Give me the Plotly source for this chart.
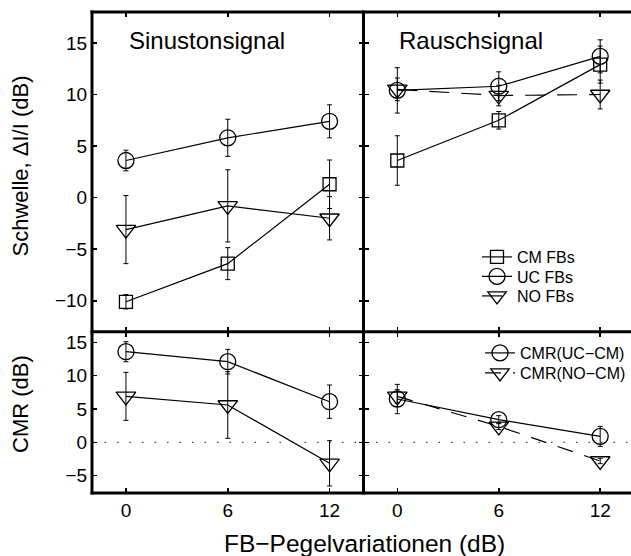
import plotly.graph_objects as go

# ---------------- data ----------------
x_levels = [0, 6, 12]
x_ticklabels = ["0", "6", "12"]

# Sinustonsignal (threshold, dB)
sin_cm = [-10.1, -6.4, 1.3]
sin_cm_err = [0.7, 1.55, 2.35]
sin_uc = [3.6, 5.8, 7.4]
sin_uc_err = [1.0, 1.8, 1.6]
sin_no = [-3.1, -0.8, -2.0]
sin_no_err = [3.3, 3.5, 2.1]

# Rauschsignal (threshold, dB)
rau_cm = [3.6, 7.5, 12.9]
rau_cm_err = [2.4, 0.85, 1.8]
rau_uc = [10.4, 10.8, 13.7]
rau_uc_err = [2.2, 1.4, 1.6]
rau_no = [10.5, 9.9, 10.0]
rau_no_err = [1.1, 1.0, 1.4]

# CMR, Sinustonsignal
cmr_sin_uc = [13.6, 12.1, 6.1]
cmr_sin_uc_err = [1.5, 1.85, 2.5]
cmr_sin_no = [6.9, 5.6, -3.15]
cmr_sin_no_err = [3.6, 5.0, 3.4]

# CMR, Rauschsignal
cmr_rau_uc = [6.5, 3.4, 0.9]
cmr_rau_uc_err = [2.2, 0.6, 1.5]
cmr_rau_no = [6.9, 2.4, -2.8]
cmr_rau_no_err = [1.0, 0.5, 0.4]

top_ticks = [-10, -5, 0, 5, 10, 15]
bot_ticks = [-5, 0, 5, 10, 15]

legend_names = ["CM FBs", "UC FBs", "NO FBs"]
cmr_names = ["CMR(UC\u2212CM)", "CMR(NO\u2212CM)"]

# ---------------- style ----------------
FONT = "Liberation Sans, Arial, Helvetica, sans-serif"
BLACK = "black"
LW = 1.2
MLW = 1.3

def trace(xa, ya, y, err, symbol, size, dash="solid", name=None, legend=None):
    return go.Scatter(
        x=x_levels, y=y, xaxis=xa, yaxis=ya,
        mode="lines+markers",
        line=dict(color=BLACK, width=LW, dash=dash),
        marker=dict(symbol=symbol, size=size, color=BLACK, line=dict(color=BLACK, width=MLW)),
        error_y=dict(type="data", array=err, visible=True, color=BLACK, thickness=1, width=2.5),
        name=name if name else "",
        showlegend=name is not None,
        legend=legend if legend else "legend",
        hoverinfo="skip",
    )

fig = go.Figure()

SQ, CI, TR = "square-open", "circle-open", "triangle-down-open"
SQS, CIS, TRS = 13, 16, 17

# top-left
fig.add_trace(trace("x", "y", sin_cm, sin_cm_err, SQ, SQS))
fig.add_trace(trace("x", "y", sin_uc, sin_uc_err, CI, CIS))
fig.add_trace(trace("x", "y", sin_no, sin_no_err, TR, TRS))
# top-right
fig.add_trace(trace("x2", "y2", rau_cm, rau_cm_err, SQ, SQS, name=legend_names[0], legend="legend"))
fig.add_trace(trace("x2", "y2", rau_uc, rau_uc_err, CI, CIS, name=legend_names[1], legend="legend2"))
fig.add_trace(trace("x2", "y2", rau_no, rau_no_err, TR, TRS, dash="20px,12px", name=legend_names[2], legend="legend3"))
# bottom-left
fig.add_trace(trace("x3", "y3", cmr_sin_uc, cmr_sin_uc_err, CI, CIS))
fig.add_trace(trace("x3", "y3", cmr_sin_no, cmr_sin_no_err, TR, TRS))
# bottom-right
fig.add_trace(trace("x4", "y4", cmr_rau_uc, cmr_rau_uc_err, CI, CIS, name=cmr_names[0], legend="legend4"))
fig.add_trace(trace("x4", "y4", cmr_rau_no, cmr_rau_no_err, TR, TRS, dash="16px,12px", name=cmr_names[1], legend="legend5"))

# the original figure's box extends a few pixels past the 631 px window on the right
W, HT = 634, 556
ML, MR, MT, MB = 92, 0, 12, 63
PW, PH = W - ML - MR, HT - MT - MB
D = (363.5 - ML) / PW
H = (HT - MB - 331.7) / PH
TICKFONT = dict(family=FONT, size=19, color=BLACK)

def px_x(px):
    return (px - ML) / PW

def px_y(py):
    return (HT - MB - py) / PH

def xax(domain, anchor, rng, labels):
    return dict(domain=domain, anchor=anchor, range=rng, tickvals=x_levels, ticktext=x_ticklabels,
                showticklabels=labels, ticks="inside", ticklen=5, tickwidth=1.5, tickcolor=BLACK,
                showline=True, linewidth=1, linecolor="rgba(0,0,0,0)", mirror="ticks",
                showgrid=False, zeroline=False, tickfont=TICKFONT, fixedrange=True)

def yax(domain, anchor, rng, tickv, labels, mirror):
    return dict(domain=domain, anchor=anchor, range=rng, tickvals=tickv,
                ticktext=[("\u2212" + str(-v)) if v < 0 else str(v) for v in tickv],
                showticklabels=labels, ticks="inside", ticklen=5, tickwidth=1.5, tickcolor=BLACK,
                showline=bool(mirror), linewidth=1, linecolor="rgba(0,0,0,0)", mirror=mirror,
                showgrid=False, zeroline=False, tickfont=TICKFONT, fixedrange=True)

RX = [-2, 14]
LEGFONT = dict(family=FONT, size=16, color=BLACK)

def leg(xpx, ypx):
    return dict(x=px_x(xpx), y=px_y(ypx), xanchor="left", yanchor="middle",
                bgcolor="rgba(0,0,0,0)", font=LEGFONT, borderwidth=0)

fig.update_layout(
    width=W, height=HT,
    margin=dict(l=ML, r=MR, t=MT, b=MB),
    paper_bgcolor="white", plot_bgcolor="white",
    font=dict(family=FONT, color=BLACK),
    xaxis=xax([0, D], "y", RX, False),
    yaxis=yax([H, 1], "x", [-13, 18], top_ticks, True, "ticks"),
    xaxis2=xax([D, 1], "y2", RX, False),
    yaxis2=yax([H, 1], "x2", [-13, 18], top_ticks, False, False),
    xaxis3=xax([0, D], "y3", RX, True),
    yaxis3=yax([0, H], "x3", [-7.6, 16.6], bot_ticks, True, "ticks"),
    xaxis4=xax([D, 1], "y4", RX, True),
    yaxis4=yax([0, H], "x4", [-7.6, 16.6], bot_ticks, False, False),
    legend=leg(477, 257),
    legend2=leg(477, 276.5),
    legend3=leg(477, 296),
    legend4=leg(480, 353),
    legend5=leg(480, 373),
    showlegend=True,
    hovermode=False,
)

# dotted zero lines in the CMR panels
for xr, yr in [("x3", "y3"), ("x4", "y4")]:
    fig.add_shape(type="line", xref=xr, yref=yr, x0=RX[0], x1=RX[1], y0=0, y1=0,
                  line=dict(color="#444", width=1.2, dash="1.5px,11px"), layer="below")

# frame lines (Matlab-like thick box; its right side lies outside the window)
ex = 1.5 / PW
ey = 1.5 / PH
frame = [
    (0 - ex, 1, 1, 1), (0 - ex, 0, 1, 0), (0 - ex, H, 1, H),
    (0, 0 - ey, 0, 1 + ey), (D, 0 - ey, D, 1 + ey),
]
for x0, y0, x1, y1 in frame:
    fig.add_shape(type="line", xref="paper", yref="paper", x0=x0, y0=y0, x1=x1, y1=y1,
                  line=dict(color=BLACK, width=3), layer="above")

# texts
ann = [
    dict(text="Sinustonsignal", x=px_x(127), y=px_y(40), xanchor="left", size=24),
    dict(text="Rauschsignal", x=px_x(397), y=px_y(40), xanchor="left", size=24),
    dict(text="FB\u2212Pegelvariationen (dB)", x=px_x(364), y=px_y(543), xanchor="center", size=24.5),
    dict(text="Schwelle, \u0394I/I (dB)", x=px_x(20), y=px_y(166.5), xanchor="center", size=22, angle=-90),
    dict(text="CMR (dB)", x=px_x(20), y=px_y(404), xanchor="center", size=22, angle=-90),
]
for a in ann:
    fig.add_annotation(text=a["text"], xref="paper", yref="paper", x=a["x"], y=a["y"],
                       xanchor=a["xanchor"], yanchor="middle", showarrow=False,
                       textangle=a.get("angle", 0),
                       font=dict(family=FONT, size=a["size"], color=BLACK))

fig.write_html("out.html", config={"displayModeBar": False, "staticPlot": True},
               post_script="document.documentElement.style.overflow='hidden';document.body.style.margin='0';document.body.style.overflow='hidden';")
